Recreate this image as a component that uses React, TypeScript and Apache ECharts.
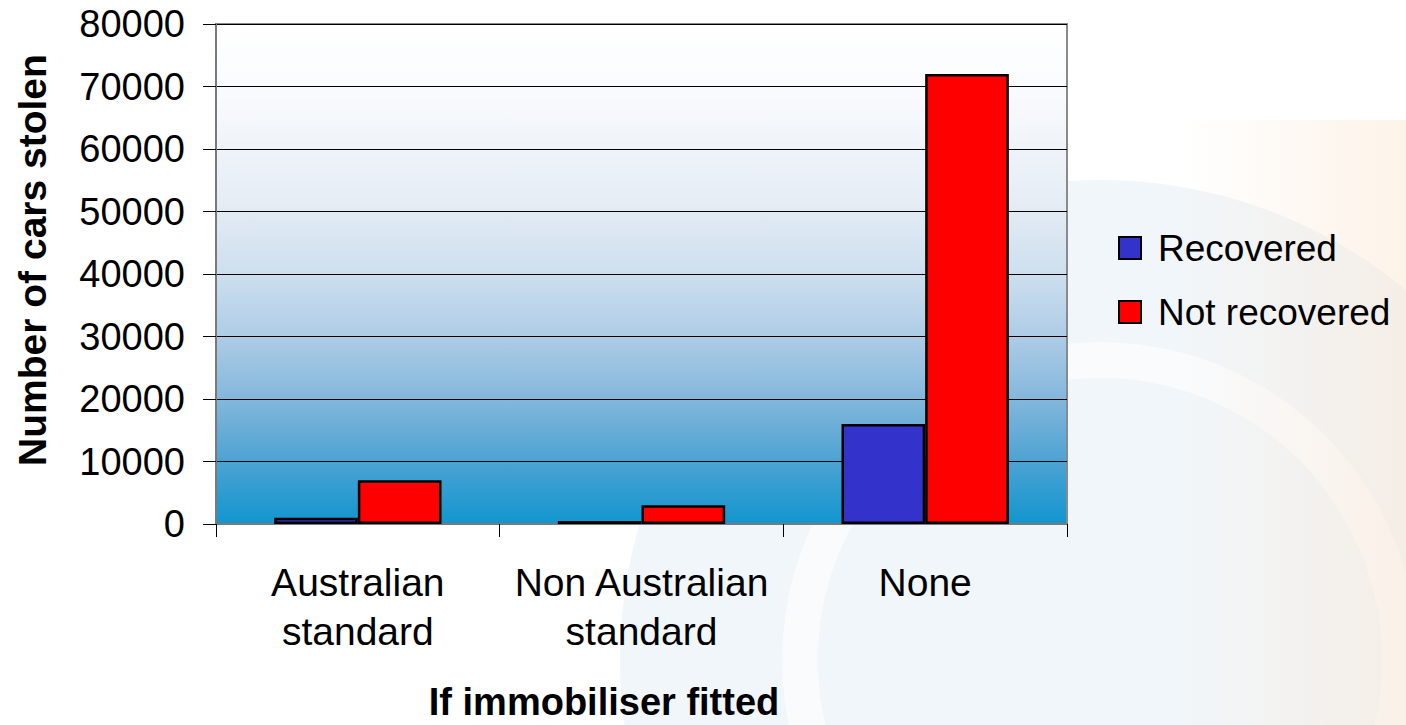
import React, { useEffect, useRef } from "react";
import * as echarts from "echarts";

const categories = ["Australian\nstandard", "Non Australian\nstandard", "None"];
const recovered = [1000, 500, 16000];
const notRecovered = [7000, 3000, 72000];
const seriesNames = ["Recovered", "Not recovered"];
const yTicks = { min: 0, max: 80000, interval: 10000 };

const FONT = "'Liberation Sans', Arial, sans-serif";

export default function App() {
  const ref = useRef<HTMLDivElement>(null);
  useEffect(() => {
    if (!ref.current) return;
    const chart = echarts.init(ref.current, undefined, { renderer: "svg" });
    const option: any = {
      animation: false,
      backgroundColor: "#ffffff",
      graphic: [
        {
          type: "circle",
          z: -10,
          shape: { cx: 1100, cy: 660, r: 480 },
          style: { fill: "rgba(214,228,240,0.35)" },
          silent: true,
        },
        {
          type: "circle",
          z: -9,
          shape: { cx: 1100, cy: 660, r: 300 },
          style: { fill: "none", stroke: "rgba(255,255,255,0.55)", lineWidth: 36 },
          silent: true,
        },
        {
          type: "rect",
          z: -8,
          shape: { x: 1180, y: 120, width: 226, height: 605 },
          style: {
            fill: {
              type: "linear",
              x: 0,
              y: 0,
              x2: 1,
              y2: 0,
              colorStops: [
                { offset: 0, color: "rgba(250,228,205,0)" },
                { offset: 1, color: "rgba(250,228,205,0.45)" },
              ],
            },
          },
          silent: true,
        },
        {
          type: "text",
          x: 32,
          y: 260,
          rotation: Math.PI / 2,
          style: {
            text: "Number of cars stolen",
            font: `bold 39px ${FONT}`,
            fill: "#000",
            align: "center",
            verticalAlign: "middle",
          },
        },
        {
          type: "text",
          x: 604,
          y: 702,
          style: {
            text: "If immobiliser fitted",
            font: `bold 38px ${FONT}`,
            fill: "#000",
            align: "center",
            verticalAlign: "middle",
          },
        },
      ],
      grid: {
        left: 216,
        top: 24,
        right: 339,
        bottom: 201,
        show: true,
        borderColor: "#8a8a8a",
        borderWidth: 2,
        backgroundColor: {
          type: "linear",
          x: 0,
          y: 0,
          x2: 0,
          y2: 1,
          colorStops: [
            { offset: 0, color: "#ffffff" },
            { offset: 0.15, color: "#f8fafd" },
            { offset: 0.35, color: "#e6edf5" },
            { offset: 0.5, color: "#cddfee" },
            { offset: 0.62, color: "#afcde6" },
            { offset: 0.75, color: "#84b7dc" },
            { offset: 0.87, color: "#4fa3d3" },
            { offset: 1, color: "#1196cf" },
          ],
        },
      },
      legend: {
        orient: "vertical",
        left: 1113,
        top: 223,
        itemWidth: 22,
        itemHeight: 22,
        itemGap: 24,
        icon: "rect",
        data: seriesNames.map((n, i) => ({
          name: n,
          itemStyle: { color: i === 0 ? "#3333cc" : "#ff0000", borderColor: "#000", borderWidth: 2 },
        })),
        textStyle: {
          fontFamily: FONT,
          fontSize: 37,
          lineHeight: 40,
          color: "#000",
          padding: [0, 0, 0, 12],
        },
      },
      xAxis: {
        type: "category",
        data: categories,
        axisLine: { show: true, lineStyle: { color: "#7a7a7a", width: 2 } },
        axisTick: { show: true, length: 13, lineStyle: { color: "#000", width: 1 } },
        axisLabel: {
          fontFamily: FONT,
          fontSize: 39,
          lineHeight: 49,
          color: "#000",
          margin: 34,
          interval: 0,
        },
        splitLine: { show: false },
      },
      yAxis: {
        type: "value",
        min: yTicks.min,
        max: yTicks.max,
        interval: yTicks.interval,
        axisLine: { show: true, lineStyle: { color: "#7a7a7a", width: 2 } },
        axisTick: { show: true, length: 13, lineStyle: { color: "#000", width: 1 } },
        axisLabel: {
          fontFamily: FONT,
          fontSize: 38,
          color: "#000",
          margin: 31,
          formatter: (v: number) => String(v),
        },
        splitLine: { show: true, lineStyle: { color: "#000", width: 1 } },
      },
      series: [
        {
          name: seriesNames[0],
          type: "bar",
          data: recovered,
          barGap: "0%",
          barCategoryGap: "41%",
          itemStyle: { color: "#3333cc", borderColor: "#000", borderWidth: 2.5 },
        },
        {
          name: seriesNames[1],
          type: "bar",
          data: notRecovered,
          barGap: "0%",
          barCategoryGap: "41%",
          itemStyle: { color: "#ff0000", borderColor: "#000", borderWidth: 2.5 },
        },
      ],
    };
    chart.setOption(option);
    return () => chart.dispose();
  }, []);
  return (
    <div
      ref={ref}
      style={{ position: "absolute", left: 0, top: 0, width: 1406, height: 725 }}
    />
  );
}
